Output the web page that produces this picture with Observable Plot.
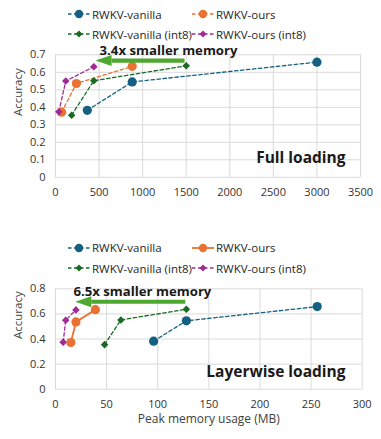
<!DOCTYPE html>
<html><head><meta charset="utf-8">
<script src="https://cdn.jsdelivr.net/npm/d3@7"></script>
<script src="https://cdn.jsdelivr.net/npm/@observablehq/plot@0.6"></script>
<style>
body{margin:0;background:#fff}
#root{position:relative;width:381px;height:439px;overflow:hidden;font-family:"Open Sans",sans-serif;color:#262626}
#root > svg{position:absolute;left:0}
.leg{position:absolute;display:flex;align-items:center;font-size:11.5px;white-space:nowrap;color:#262626}
.leg svg{display:block;margin-right:2px}
</style></head>
<body><div id="root"></div>
<script>
// ---- data ----
const seriesNames = ["RWKV-vanilla","RWKV-ours","RWKV-vanilla (int8)","RWKV-ours (int8)"];
const seriesColors = ["#156082","#E97132","#196B24","#A02B93"];
const seriesSymbols = ["circle","circle","diamond2","diamond2"];

const accVanilla     = [0.383, 0.545, 0.658];
const accOurs        = [0.372, 0.536, 0.634];
const accVanillaInt8 = [0.355, 0.552, 0.637];
const accOursInt8    = [0.375, 0.550, 0.632];

const fullMemVanilla     = [365, 880, 3000];
const fullMemOurs        = [70, 240, 880];
const fullMemVanillaInt8 = [185, 440, 1500];
const fullMemOursInt8    = [38, 118, 440];

const layerMemVanilla     = [96, 128, 256];
const layerMemOurs        = [15, 20, 39];
const layerMemVanillaInt8 = [48, 64, 128];
const layerMemOursInt8    = [7.5, 10, 20];

const fullXTicks = [0,500,1000,1500,2000,2500,3000,3500];
const fullYTicks = [0,0.1,0.2,0.3,0.4,0.5,0.6,0.7];
const layerXTicks = [0,50,100,150,200,250,300];
const layerYTicks = [0,0.2,0.4,0.6,0.8];

const fullArrow  = {from: 1481, to: 643, y: 0.667, label: "3.4x smaller memory", lx: 1297, ly: 0.722};
const layerArrow = {from: 127, to: 35, y: 0.697, label: "6.5x smaller memory", lx: 85, ly: 0.776};
const fullTitle = "Full loading";
const layerTitle = "Layerwise loading";

// ---- build tables ----
const accs = [accVanilla, accOurs, accVanillaInt8, accOursInt8];
function table(mems){
  return mems.flatMap((m, i) => m.map((v, j) => ({series: seriesNames[i], mem: v, acc: accs[i][j]})));
}
const fullData = table([fullMemVanilla, fullMemOurs, fullMemVanillaInt8, fullMemOursInt8]);
const layerData = table([layerMemVanilla, layerMemOurs, layerMemVanillaInt8, layerMemOursInt8]);

const arrowHead = {draw(ctx){ ctx.moveTo(-16,0); ctx.lineTo(0,-5.5); ctx.lineTo(0,5.5); ctx.closePath(); }};
const font = "'Open Sans', sans-serif";

function chart({data, xDomain, yDomain, xTicks, yTicks, height, marginTop, marginBottom, marginRight, arrow, title, titleDx, titleDy, solidOurs, xLabel}){
  const yFmt = d => d === 0 ? "0" : d.toFixed(1);
  const marks = [
    Plot.ruleX(xTicks, {stroke: "#d9d9d9", strokeWidth: 1}),
    Plot.ruleY(yTicks, {stroke: "#d9d9d9", strokeWidth: 1}),
  ];
  seriesNames.forEach((s, i) => {
    const rows = data.filter(d => d.series === s);
    const solid = solidOurs && i === 1;
    marks.push(Plot.line(rows, {x: "mem", y: "acc", stroke: seriesColors[i], strokeWidth: solid ? 1.8 : 1.3, strokeDasharray: solid ? null : "3.5,2.5"}));
  });
  seriesNames.forEach((s, i) => {
    const rows = data.filter(d => d.series === s);
    marks.push(Plot.dot(rows, {x: "mem", y: "acc", fill: seriesColors[i], stroke: null, symbol: seriesSymbols[i], r: seriesSymbols[i] === "circle" ? 4.6 : 3.4}));
  });
  marks.push(
    Plot.link([arrow], {x1: "from", x2: "to", y1: "y", y2: "y", stroke: "#4EA72E", strokeWidth: 4.2}),
    Plot.dot([arrow], {x: "to", y: "y", symbol: arrowHead, fill: "#4EA72E", stroke: null}),
    Plot.text([arrow], {x: "lx", y: "ly", text: "label", fontSize: 13.2, fontWeight: "bold", fill: "#1a1a1a", fontFamily: font}),
    Plot.text([title], {frameAnchor: "bottom-right", textAnchor: "end", lineAnchor: "middle", dx: titleDx, dy: titleDy, fontSize: 15.5, fontWeight: "bold", fill: "#1a1a1a", fontFamily: font}),
    Plot.text(["Accuracy"], {frameAnchor: "left", rotate: -90, dx: -37, fontSize: 11.5, fill: "#404040", fontFamily: font})
  );
  if (xLabel) marks.push(Plot.text([xLabel], {frameAnchor: "bottom", dy: 34, fontSize: 12, fill: "#404040", fontFamily: font}));
  return Plot.plot({
    width: 381, height, marginTop, marginBottom, marginLeft: 55, marginRight,
    style: {fontFamily: font, fontSize: "11px", color: "#333333", background: "transparent", overflow: "visible"},
    x: {domain: xDomain, ticks: xTicks, tickSize: 0, tickPadding: 11, tickFormat: d => String(d), label: null},
    y: {domain: yDomain, ticks: yTicks, tickSize: 0, tickPadding: 10, tickFormat: yFmt, label: null},
    marks
  });
}

const root = document.getElementById("root");

const top1 = chart({data: fullData, xDomain: [0,3500], yDomain: [0,0.7], xTicks: fullXTicks, yTicks: fullYTicks,
  height: 205, marginTop: 54.3, marginBottom: 28.2, marginRight: 21, arrow: fullArrow, title: fullTitle, titleDx: -15, titleDy: -19, solidOurs: false});
top1.style.top = "0px";
root.appendChild(top1);

const bot = chart({data: layerData, xDomain: [0,300], yDomain: [0,0.8], xTicks: layerXTicks, yTicks: layerYTicks,
  height: 219, marginTop: 68.3, marginBottom: 50.3, marginRight: 19.3, arrow: layerArrow, title: layerTitle, titleDx: -16.7, titleDy: -17, solidOurs: true, xLabel: "Peak memory usage (MB)"});
bot.style.top = "220px";
root.appendChild(bot);

// ---- legends ----
function swatch(i, solid){
  const svg = d3.create("svg").attr("width", 22).attr("height", 12);
  svg.append("line").attr("x1", 0).attr("x2", 22).attr("y1", 6).attr("y2", 6)
    .attr("stroke", seriesColors[i]).attr("stroke-width", solid ? 1.8 : 1.3).attr("stroke-dasharray", solid ? null : "3.5,2.5");
  const sym = seriesSymbols[i] === "circle" ? d3.symbolCircle : d3.symbolDiamond2;
  const r = seriesSymbols[i] === "circle" ? 4.2 : 3.2;
  svg.append("path").attr("transform", "translate(11,6)").attr("d", d3.symbol(sym, Math.PI * r * r)()).attr("fill", seriesColors[i]);
  return svg.node();
}
function legend(yRow1, yRow2, solidOurs){
  const pos = [[68, yRow1], [192, yRow1], [68, yRow2], [192, yRow2]];
  seriesNames.forEach((s, i) => {
    const div = document.createElement("div");
    div.className = "leg";
    div.style.left = pos[i][0] + "px";
    div.style.top = (pos[i][1] - 8) + "px";
    div.style.height = "16px";
    div.appendChild(swatch(i, solidOurs && i === 1));
    const span = document.createElement("span");
    span.textContent = s;
    div.appendChild(span);
    root.appendChild(div);
  });
}
legend(14, 34, false);
legend(247.7, 268, true);
</script>
</body></html>
